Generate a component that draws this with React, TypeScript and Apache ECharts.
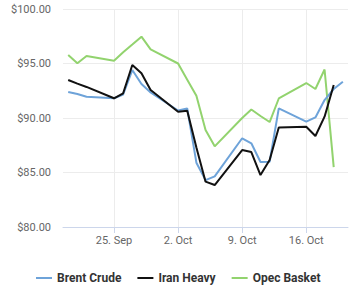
import React, { useEffect, useRef } from "react";
import * as echarts from "echarts";

const dates = [
  "2023-09-20", "2023-09-21", "2023-09-22", "2023-09-25", "2023-09-26", "2023-09-27",
  "2023-09-28", "2023-09-29", "2023-10-02", "2023-10-03", "2023-10-04", "2023-10-05",
  "2023-10-06", "2023-10-09", "2023-10-10", "2023-10-11", "2023-10-12", "2023-10-13",
  "2023-10-16", "2023-10-17", "2023-10-18", "2023-10-19", "2023-10-20",
];

const brentCrude = [
  92.39, 92.2, 91.95, 91.81, 92.16, 94.4, 93.12, 92.34, 90.69, 90.87, 85.9, 84.3,
  84.65, 88.14, 87.68, 85.96, 85.99, 90.89, 89.66, 90.05, 91.65, 92.66, 93.33,
];
const iranHeavy = [
  93.49, 93.15, 92.85, 91.81, 92.27, 94.86, 94.1, 92.57, 90.58, 90.67, 87.3, 84.16,
  83.85, 87.06, 86.88, 84.77, 86.15, 89.13, 89.2, 88.35, 90.12, 93.03,
];
const opecBasket = [
  95.78, 95.02, 95.69, 95.26, 96.03, 96.74, 97.46, 96.3, 95.0, 93.52, 92.05, 88.9,
  87.4, 90.0, 90.78, 90.18, 89.63, 91.79, 93.21, 92.66, 94.45, 85.5,
];

const tickDates = ["2023-09-25", "2023-10-02", "2023-10-09", "2023-10-16"];
const tickLabels = ["25. Sep", "2. Oct", "9. Oct", "16. Oct"];
const yTicks = [80, 85, 90, 95, 100];

const DAY = 86400000;
const origin = Date.UTC(2023, 8, 20);
const toDay = (s: string) => {
  const [y, m, d] = s.split("-").map(Number);
  return (Date.UTC(y, m - 1, d) - origin) / DAY;
};

const pair = (vals: number[]) => vals.map((v, i) => [toDay(dates[i]), v]);

export default function App() {
  const ref = useRef<HTMLDivElement>(null);
  useEffect(() => {
    if (!ref.current) return;
    const chart = echarts.init(ref.current, null, { renderer: "svg" });
    const tickVals = tickDates.map(toDay);
    const font = "Roboto, 'Noto Sans', sans-serif";
    chart.setOption({
      animation: false,
      textStyle: { fontFamily: font },
      grid: { left: 63, right: 9, top: 9, bottom: 73, containLabel: false },
      legend: {
        left: 31,
        top: 267,
        icon: "rect",
        itemWidth: 16,
        itemHeight: 2,
        itemGap: 16,
        textStyle: { fontFamily: font, fontSize: 12, fontWeight: "bold", color: "#333" },
        data: ["Brent Crude", "Iran Heavy", "Opec Basket"],
      },
      xAxis: {
        type: "value",
        min: -0.57,
        max: 30.56,
        axisLine: { show: true, lineStyle: { color: "#ccd6eb", width: 1 } },
        axisTick: { show: true, length: 6, lineStyle: { color: "#ccd6eb" }, customValues: tickVals },
        axisLabel: {
          customValues: tickVals,
          color: "#666",
          fontSize: 11,
          margin: 8,
          fontFamily: font,
          formatter: (v: number) => {
            const i = tickVals.findIndex((t) => Math.abs(t - v) < 0.01);
            return i >= 0 ? tickLabels[i] : "";
          },
        },
        splitLine: { show: true, lineStyle: { color: "#ececec", width: 1 } },
      },
      yAxis: {
        type: "value",
        min: yTicks[0],
        max: yTicks[yTicks.length - 1],
        interval: 5,
        axisLine: { show: false },
        axisTick: { show: false },
        axisLabel: {
          color: "#666",
          fontSize: 11,
          margin: 12,
          fontFamily: font,
          formatter: (v: number) => "$" + v.toFixed(2),
        },
        splitLine: { show: true, lineStyle: { color: "#ececec", width: 1 } },
      },
      series: [
        {
          name: "Brent Crude",
          type: "line",
          data: pair(brentCrude),
          showSymbol: false,
          symbol: "none",
          lineStyle: { color: "#6ea3d9", width: 2 },
          itemStyle: { color: "#6ea3d9" },
          z: 2,
        },
        {
          name: "Iran Heavy",
          type: "line",
          data: pair(iranHeavy),
          showSymbol: false,
          symbol: "none",
          lineStyle: { color: "#111111", width: 2 },
          itemStyle: { color: "#111111" },
          z: 3,
        },
        {
          name: "Opec Basket",
          type: "line",
          data: pair(opecBasket),
          showSymbol: false,
          symbol: "none",
          lineStyle: { color: "#92d36e", width: 2 },
          itemStyle: { color: "#92d36e" },
          z: 1,
        },
      ],
    });
    return () => chart.dispose();
  }, []);
  return <div ref={ref} style={{ width: 357, height: 300, position: "absolute", left: 0, top: 0 }} />;
}
